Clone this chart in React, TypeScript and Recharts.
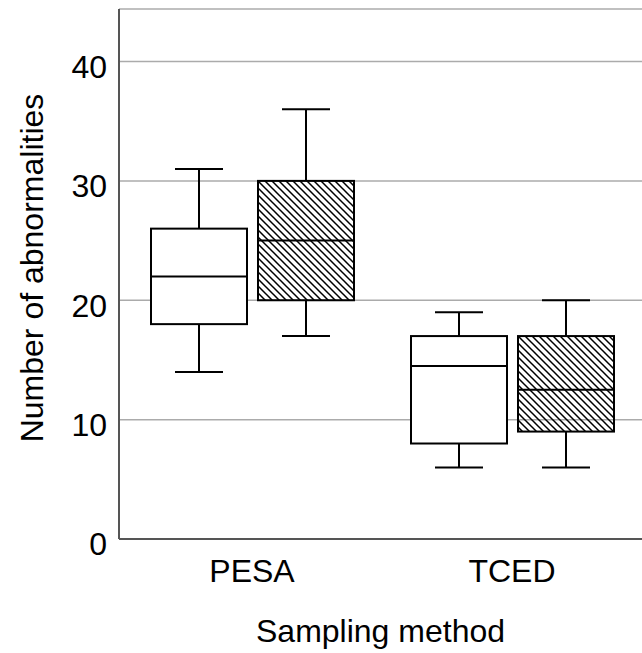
import React from 'react';
import { ComposedChart, Bar, XAxis, YAxis, CartesianGrid } from 'recharts';

const categories = ['PESA', 'TCED'];

const plainMin = [14, 6];
const plainQ1 = [18, 8];
const plainMedian = [22, 14.5];
const plainQ3 = [26, 17];
const plainMax = [31, 19];

const hatchMin = [17, 6];
const hatchQ1 = [20, 9];
const hatchMedian = [25, 12.5];
const hatchQ3 = [30, 17];
const hatchMax = [36, 20];

const yTicks = [0, 10, 20, 30, 40];
const yMax = 44.4;

const xTitle = 'Sampling method';
const yTitle = 'Number of abnormalities';

const data = categories.map((name, i) => ({
  name,
  plainMax: plainMax[i],
  plain: { min: plainMin[i], q1: plainQ1[i], median: plainMedian[i], q3: plainQ3[i], max: plainMax[i] },
  hatchMax: hatchMax[i],
  hatch: { min: hatchMin[i], q1: hatchQ1[i], median: hatchMedian[i], q3: hatchQ3[i], max: hatchMax[i] },
}));

const FONT = "Arial, 'Liberation Sans', Helvetica, sans-serif";

const makeBox = (key: string, fill: string) => (props: any) => {
  const { x, y, width, height, payload } = props;
  const s = payload[key];
  const k = height / s.max;
  const base = y + height;
  const py = (v: number) => base - v * k;
  const cx = x + width / 2;
  const capHalf = width / 4;
  return (
    <g>
      <line x1={cx} x2={cx} y1={py(s.max)} y2={py(s.q3)} stroke="#000" strokeWidth={2} />
      <line x1={cx} x2={cx} y1={py(s.q1)} y2={py(s.min)} stroke="#000" strokeWidth={2} />
      <line x1={cx - capHalf} x2={cx + capHalf} y1={py(s.max)} y2={py(s.max)} stroke="#000" strokeWidth={2} />
      <line x1={cx - capHalf} x2={cx + capHalf} y1={py(s.min)} y2={py(s.min)} stroke="#000" strokeWidth={2} />
      <rect x={x} y={py(s.q3)} width={width} height={py(s.q1) - py(s.q3)} fill={fill} stroke="#000" strokeWidth={2} />
      <line x1={x} x2={x + width} y1={py(s.median)} y2={py(s.median)} stroke="#000" strokeWidth={2} />
    </g>
  );
};

const YTick = (props: any) => {
  const { x, y, payload } = props;
  return (
    <text x={x - 12} y={y + 16.3} textAnchor="end" fontSize={32} fontFamily={FONT} fill="#000">
      {payload.value}
    </text>
  );
};

const XTick = (props: any) => {
  const { x, y, payload } = props;
  return (
    <text x={x} y={y + 43} textAnchor="middle" fontSize={32} fontFamily={FONT} fill="#000">
      {payload.value}
    </text>
  );
};

const YLabel = (props: any) => {
  const vb = props.viewBox || { x: 0, y: 9, width: 119, height: 530 };
  const cx = 43;
  const cy = vb.y + vb.height / 2 - 6;
  return (
    <text x={cx} y={cy} transform={`rotate(-90, ${cx}, ${cy})`} textAnchor="middle" fontSize={32} fontFamily={FONT} fill="#000">
      {yTitle}
    </text>
  );
};

const XLabel = (props: any) => {
  const vb = props.viewBox || { x: 119, y: 539, width: 523, height: 114 };
  const cx = vb.x + vb.width / 2;
  return (
    <text x={cx} y={642} textAnchor="middle" fontSize={32} fontFamily={FONT} fill="#000">
      {xTitle}
    </text>
  );
};

export default function App() {
  return (
    <div style={{ position: 'absolute', left: 0, top: 0, background: '#fff' }}>
      <ComposedChart
        width={642}
        height={653}
        data={data}
        margin={{ top: 9, right: 0, bottom: 0, left: 0 }}
        barSize={96}
        barGap={11}
      >
        <defs>
          <pattern id="hatch" patternUnits="userSpaceOnUse" width={7} height={7}>
            <path d="M0,0 L7,7 M-1,6 L1,8 M6,-1 L8,1" stroke="#000" strokeWidth={1.5} />
          </pattern>
        </defs>
        <CartesianGrid vertical={false} stroke="#ababab" strokeWidth={1.5} />
        <XAxis
          dataKey="name"
          height={114}
          padding={{ left: 3, right: 0 }}
          tickLine={false}
          tickSize={0}
          tickMargin={0}
          axisLine={{ stroke: '#555', strokeWidth: 2 }}
          tick={<XTick />}
          label={<XLabel />}
        />
        <YAxis
          type="number"
          domain={[0, yMax]}
          ticks={yTicks}
          width={119}
          tickLine={false}
          tickSize={0}
          tickMargin={0}
          axisLine={{ stroke: '#555', strokeWidth: 2 }}
          tick={<YTick />}
          label={<YLabel />}
          allowDataOverflow
        />
        <Bar dataKey="plainMax" isAnimationActive={false} shape={makeBox('plain', '#fff')} />
        <Bar dataKey="hatchMax" isAnimationActive={false} shape={makeBox('hatch', 'url(#hatch)')} />
      </ComposedChart>
    </div>
  );
}
